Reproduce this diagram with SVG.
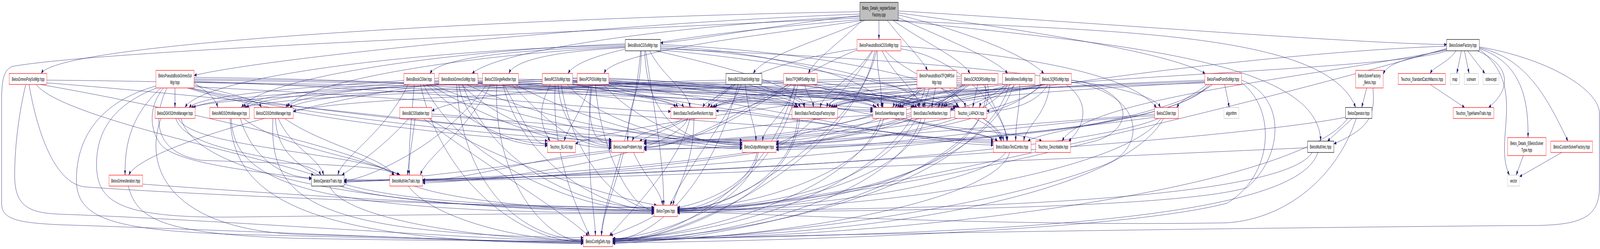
<svg xmlns="http://www.w3.org/2000/svg" width="7955" height="637" viewBox="0 0 7955 637" preserveAspectRatio="none">
<style>
:root{width:100vw;height:100vh}
.e path{fill:none;stroke:#191970;stroke-width:1;marker-end:url(#ah)}
.n rect{fill:#fff;stroke-width:1.2}
.r rect{stroke:#ff0000}
.k rect{stroke:#000}
.g rect{stroke:#bfbfbf}
.root rect{fill:#bfbfbf;stroke:#000}
text{font-family:"Liberation Sans",Arial,sans-serif;font-size:13px;fill:#000;text-anchor:middle}
</style>
<defs>
<marker id="ah" viewBox="0 0 12 9" refX="12" refY="4.5" markerWidth="12" markerHeight="9" markerUnits="userSpaceOnUse" orient="auto"><path d="M0,0L12,4.5L0,9z" fill="#191970"/></marker>
</defs>
<rect width="7955" height="637" fill="#fff"/>
<g id="edges" class="e">
<path d="M4275,30 C3000,40 300,100 205,188"/>
<path d="M4275,36 C3000,60 1300,150 965,193"/>
<path d="M4275,42 C3500,60 2500,120 2347,188"/>
<path d="M4280,50 C3600,80 2900,120 2824,188"/>
<path d="M4290,52 C3800,90 3050,130 3003,188"/>
<path d="M4275,40 C3900,60 3500,100 3284,110"/>
<path d="M4300,52 C4100,100 3800,140 3745,188"/>
<path d="M4285,52 C4200,100 4050,150 4019,188"/>
<path d="M4370,52 L4370,101"/>
<path d="M4411,52 C4500,110 4580,150 4612,180"/>
<path d="M4440,52 C4600,110 4780,150 4823,188"/>
<path d="M4466,45 C4700,100 4950,150 5010,188"/>
<path d="M4466,38 C4800,80 5100,140 5190,188"/>
<path d="M4466,33 C5000,70 5800,130 5992,188"/>
<path d="M4466,28 C5500,60 6700,110 7193,114"/>
<path d="M4440,52 C5500,80 6600,80 6740,275"/>
<path d="M4440,52 C5500,110 6560,150 6566,361"/>
<path d="M4275,46 C2500,90 500,130 60,170 C20,180 8,200 8,260 L8,520 C8,560 80,570 300,575 C1200,590 2500,620 2900,622"/>
<path d="M3109,118 C2700,125 2200,140 2137,188"/>
<path d="M3109,122 C2800,130 2560,150 2530,188"/>
<path d="M3109,115 C2000,130 1000,200 920,275"/>
<path d="M3109,112 C2200,130 1300,200 1200,275"/>
<path d="M3109,120 C2300,140 1500,210 1420,275"/>
<path d="M3284,125 C4500,150 5700,200 5770,275"/>
<path d="M3284,118 C3800,130 4380,200 4390,275"/>
<path d="M3188,130 C3188,250 3121,250 3121,361"/>
<path d="M3230,130 C3300,200 3420,230 3431,275"/>
<path d="M3284,122 C3900,140 4580,210 4600,275"/>
<path d="M3284,128 C4000,160 4950,250 4990,361"/>
<path d="M3260,130 C3600,170 3990,220 4000,275"/>
<path d="M3205,130 C3220,330 3450,370 3690,371"/>
<path d="M3284,114 C4000,130 4780,200 4800,275"/>
<path d="M3210,130 C3260,300 3300,420 3300,525"/>
<path d="M3185,130 C3150,350 3000,500 2990,603"/>
<path d="M4335,130 C4250,200 4100,230 4077,275"/>
<path d="M4361,130 C4361,200 4383,200 4383,275"/>
<path d="M4386,130 C4450,200 4560,230 4574,275"/>
<path d="M4402,130 C4500,190 4740,220 4760,275"/>
<path d="M4261,125 C3900,150 3560,220 3520,275"/>
<path d="M4261,128 C3900,200 3500,375 3202,376"/>
<path d="M4340,130 C4200,250 3900,375 3859,376"/>
<path d="M4479,125 C4800,150 5000,300 5010,361"/>
<path d="M4357,130 C4300,300 3700,540 3368,540"/>
<path d="M4350,130 C4250,400 3400,617 3046,617"/>
<path d="M4479,118 C5000,138 5600,180 5750,275"/>
<path d="M7239,130 C7200,160 7130,170 7110,188"/>
<path d="M7266,130 L7243,188"/>
<path d="M7281,130 L7304,188"/>
<path d="M7297,130 L7383,188"/>
<path d="M7346,130 C7520,170 7510,230 7401,275"/>
<path d="M7355,126 C7600,220 7420,360 7505,448"/>
<path d="M7355,124 C7560,160 7600,250 7597,352"/>
<path d="M7355,122 C7600,150 7700,260 7796,361"/>
<path d="M7355,120 C7700,150 7952,230 7952,290 L7952,480 C7952,560 7850,577 7600,577 C7300,577 3300,600 3046,619"/>
<path d="M7193,130 C6900,185 4700,200 4470,275"/>
<path d="M7193,126 C7000,150 6900,160 6877,190"/>
<path d="M7193,118 C6000,140 4000,300 3859,372"/>
<path d="M7193,124 C6000,300 4000,540 3368,538"/>
<path d="M7193,128 C6500,200 5400,250 5280,361"/>
<path d="M6795,225 L6770,275"/>
<path d="M6826,225 C6840,300 6800,330 6632,368"/>
<path d="M7110,216 L7282,275"/>
<path d="M7574,398 L7538,448"/>
<path d="M7765,390 L7555,452"/>
<path d="M6724,303 L6600,361"/>
<path d="M6690,300 C6000,370 3000,462 1711,462"/>
<path d="M6743,303 C6650,450 6400,560 6100,570 C5000,580 3700,545 3368,541"/>
<path d="M6700,303 C6500,450 5000,600 3046,615"/>
<path d="M6501,378 C5500,400 3000,462 2101,462"/>
<path d="M6523,390 C6400,500 5000,540 3368,537"/>
<path d="M6552,390 C6450,560 5000,600 3046,613"/>
<path d="M6089,216 L6112,275"/>
<path d="M6000,216 C5950,240 5880,250 5850,275"/>
<path d="M5990,205 C5200,220 4600,240 4480,275"/>
<path d="M5990,210 C5300,230 4720,250 4690,275"/>
<path d="M5990,212 C5000,230 3700,240 3540,275"/>
<path d="M5990,208 C5100,225 4200,240 4130,275"/>
<path d="M6030,216 C5800,300 5200,330 5110,361"/>
<path d="M6010,216 C5800,360 4000,380 3202,380"/>
<path d="M6020,216 C5800,340 4500,375 3859,378"/>
<path d="M6173,205 C6400,250 6380,400 6200,480 C5800,540 4000,540 3368,543"/>
<path d="M6173,212 C6350,280 6330,450 6100,520 C5500,600 3500,620 3046,621"/>
<path d="M5190,216 C5000,240 4500,250 4470,275"/>
<path d="M5200,216 C5000,240 4720,250 4700,275"/>
<path d="M5210,216 C5150,270 5000,284 4906,284"/>
<path d="M5220,216 C5200,300 5100,320 5090,361"/>
<path d="M5180,216 C4800,240 4200,250 4150,275"/>
<path d="M5300,216 C5420,260 5400,320 5313,361"/>
<path d="M5180,216 C5000,330 3600,370 3202,368"/>
<path d="M5175,216 C5000,320 4200,372 3859,370"/>
<path d="M5327,205 C5650,230 5640,330 5450,360 C5000,420 4000,530 3368,535"/>
<path d="M5327,210 C5700,240 5700,380 5500,420 C4800,560 3500,615 3046,620"/>
<path d="M5010,216 C4900,245 4500,250 4460,275"/>
<path d="M5030,216 C4900,245 4700,250 4680,275"/>
<path d="M5050,216 C5000,245 4880,250 4870,275"/>
<path d="M4990,214 C4500,230 3600,240 3555,275"/>
<path d="M4995,216 C4700,240 4200,250 4140,275"/>
<path d="M5070,216 C5070,290 5050,300 5050,361"/>
<path d="M5000,216 C4800,330 3700,365 3202,366"/>
<path d="M5010,216 C4900,330 4200,368 3859,368"/>
<path d="M5040,216 C4900,450 4000,536 3368,534"/>
<path d="M5020,216 C4850,500 3600,612 3046,612"/>
<path d="M4861,216 L4836,275"/>
<path d="M4800,216 C4700,245 4480,250 4450,275"/>
<path d="M4820,216 C4760,245 4680,250 4665,275"/>
<path d="M4781,210 C4300,225 3650,235 3545,275"/>
<path d="M4790,216 C4500,240 4150,250 4120,275"/>
<path d="M4890,216 C4960,290 5000,320 5005,361"/>
<path d="M4800,216 C4600,330 3700,363 3202,363"/>
<path d="M4810,216 C4600,330 4100,365 3859,365"/>
<path d="M4781,214 C4000,260 3000,330 2861,368"/>
<path d="M4781,205 C3500,230 1800,240 1458,285"/>
<path d="M4781,200 C3500,220 1500,230 1215,275"/>
<path d="M4781,195 C3500,215 1200,230 950,275"/>
<path d="M4900,216 C4950,450 4000,540 3368,545"/>
<path d="M4910,216 C4980,400 4000,600 3046,623"/>
<path d="M4790,216 C4500,400 2600,462 2101,464"/>
<path d="M4785,216 C4400,420 2300,462 1711,464"/>
<path d="M4651,225 L4632,275"/>
<path d="M4597,225 C4550,250 4450,255 4440,275"/>
<path d="M4559,209 C4100,220 3600,240 3530,275"/>
<path d="M4559,215 C4300,230 4120,250 4110,275"/>
<path d="M4720,225 C4850,300 4970,320 4980,361"/>
<path d="M4570,225 C4400,330 3700,362 3202,360"/>
<path d="M4580,225 C4450,320 4000,362 3859,362"/>
<path d="M4620,225 C4500,460 3900,532 3368,532"/>
<path d="M4600,225 C4450,500 3500,610 3046,610"/>
<path d="M4000,216 C4020,250 4040,255 4045,275"/>
<path d="M4040,216 C4200,250 4370,255 4390,275"/>
<path d="M4050,216 C4300,245 4580,255 4595,275"/>
<path d="M3935,216 C3800,270 3650,282 3560,284"/>
<path d="M4063,210 C4600,250 4950,300 4975,361"/>
<path d="M3920,216 C3700,300 3400,375 3202,378"/>
<path d="M3957,216 C3900,300 3800,320 3791,361"/>
<path d="M3966,216 C3900,400 3600,535 3368,536"/>
<path d="M3950,216 C3850,450 3400,614 3046,614"/>
<path d="M3609,205 C3000,210 2300,240 2147,284"/>
<path d="M3657,216 C3600,245 3510,255 3494,275"/>
<path d="M3686,216 C3600,320 3400,440 3332,525"/>
<path d="M3705,216 C3720,290 3755,320 3759,361"/>
<path d="M3721,216 C4200,300 4900,330 4960,361"/>
<path d="M3788,205 C4100,220 4350,250 4370,275"/>
<path d="M3788,210 C4200,230 4550,250 4570,275"/>
<path d="M3770,216 C3900,245 3990,255 4000,275"/>
<path d="M3640,216 C3500,300 3300,330 3179,361"/>
<path d="M3670,216 C3550,450 3300,600 3046,616"/>
<path d="M2931,216 C2900,280 2830,320 2804,361"/>
<path d="M2938,216 C2915,330 2960,368 3040,368"/>
<path d="M2870,205 C2000,220 1100,240 960,275"/>
<path d="M2870,210 C2200,225 1550,240 1440,275"/>
<path d="M2870,200 C2100,215 1300,240 1225,275"/>
<path d="M3027,205 C3600,230 4100,284 4340,285"/>
<path d="M3027,210 C3700,220 4500,245 4560,275"/>
<path d="M3010,216 C3200,250 3380,255 3400,275"/>
<path d="M3027,200 C3500,210 3950,240 3980,275"/>
<path d="M3027,214 C3800,270 4600,371 4939,371"/>
<path d="M3000,216 C3200,330 3500,370 3690,370"/>
<path d="M3027,212 C3800,225 4700,245 4770,275"/>
<path d="M2960,216 C2990,400 3150,539 3252,539"/>
<path d="M2945,216 C2900,400 2960,550 2960,603"/>
<path d="M2737,216 C2660,290 2700,330 2735,361"/>
<path d="M2775,216 C2790,320 2900,372 3040,372"/>
<path d="M2847,205 C3600,215 4600,240 4760,275"/>
<path d="M2847,210 C3500,220 4300,240 4350,275"/>
<path d="M2847,200 C3600,210 4480,240 4550,275"/>
<path d="M2847,214 C3100,240 3350,255 3370,275"/>
<path d="M2847,208 C3400,220 3950,245 3960,275"/>
<path d="M2847,216 C3600,280 4700,366 4939,366"/>
<path d="M2820,216 C3000,320 3400,366 3690,366"/>
<path d="M2790,216 C2850,420 3100,535 3252,535"/>
<path d="M2760,216 C2740,420 2900,560 2930,603"/>
<path d="M2504,216 C2600,300 2640,370 2722,370"/>
<path d="M2545,216 C2700,300 2850,376 3040,376"/>
<path d="M2560,216 C2900,310 3400,375 3690,376"/>
<path d="M2578,212 C3500,230 4600,250 4750,278"/>
<path d="M2440,216 C2300,350 2120,400 2090,448"/>
<path d="M2420,216 C2200,380 1800,462 1711,462"/>
<path d="M2500,216 C2600,420 3000,537 3252,537"/>
<path d="M2470,216 C2450,450 2700,617 2900,617"/>
<path d="M2121,216 C2300,300 2500,368 2722,367"/>
<path d="M2134,216 C2400,300 2800,378 3040,379"/>
<path d="M2150,216 C2500,300 3300,380 3690,380"/>
<path d="M2160,210 C3000,225 4500,250 4740,280"/>
<path d="M2060,216 C2040,330 2030,400 2035,448"/>
<path d="M2030,216 C1900,350 1700,400 1680,448"/>
<path d="M2105,216 C2300,420 2900,541 3252,541"/>
<path d="M2090,216 C2200,470 2600,619 2900,619"/>
<path d="M2182,214 C1500,260 700,380 640,448"/>
<path d="M2182,200 C1600,220 1000,240 940,275"/>
<path d="M2182,205 C1700,225 1250,240 1210,275"/>
<path d="M2182,208 C1800,230 1450,245 1430,275"/>
<path d="M2376,200 C3300,210 4200,240 4360,275"/>
<path d="M2376,205 C3400,215 4450,240 4545,275"/>
<path d="M2376,208 C2900,225 3330,250 3360,275"/>
<path d="M2376,212 C3200,225 3900,250 3970,275"/>
<path d="M2376,214 C3400,260 4600,362 4939,362"/>
<path d="M2293,216 C2500,320 2800,364 3040,364"/>
<path d="M2320,216 C2700,310 3300,364 3690,364"/>
<path d="M2281,216 C2310,320 2500,371 2722,373"/>
<path d="M2376,210 C3300,220 4500,240 4755,275"/>
<path d="M2300,216 C2450,430 2900,533 3252,533"/>
<path d="M2270,216 C2300,480 2600,613 2900,613"/>
<path d="M2064,303 L2025,448"/>
<path d="M2032,303 C1900,380 1750,430 1700,448"/>
<path d="M2105,303 C2400,420 2800,540 2925,603"/>
<path d="M2147,292 C2500,300 2900,350 3040,362"/>
<path d="M2147,297 C2700,310 3400,350 3690,369"/>
<path d="M2130,303 C2500,420 3000,500 3265,525"/>
<path d="M5740,292 C5000,320 3700,382 3202,383"/>
<path d="M5740,296 C5200,310 4300,383 3859,383"/>
<path d="M5740,300 C5000,350 3000,462 2101,460"/>
<path d="M5762,303 C5200,420 2500,462 1711,460"/>
<path d="M5772,303 C5600,430 4500,538 3368,538"/>
<path d="M5785,303 C5600,480 4500,610 3046,610"/>
<path d="M874,303 C930,400 1550,400 1596,448"/>
<path d="M887,303 C950,380 1800,390 1985,448"/>
<path d="M900,303 C1000,500 2500,540 3252,543"/>
<path d="M800,303 C700,450 900,590 1500,600 C2200,610 2700,621 2900,621"/>
<path d="M1195,303 C1250,400 1400,455 1549,455"/>
<path d="M1210,303 C1400,380 1800,400 1990,448"/>
<path d="M1150,303 C1160,480 1600,545 3252,545"/>
<path d="M1144,303 C1160,500 1500,620 2900,623"/>
<path d="M1383,303 C1450,380 1580,400 1610,448"/>
<path d="M1415,303 C1600,370 1900,400 1960,448"/>
<path d="M1370,303 C1380,470 1800,530 3252,530"/>
<path d="M1357,303 C1340,500 1500,600 2900,608"/>
<path d="M709,471 C1200,490 2500,535 3252,537"/>
<path d="M638,476 C680,560 800,600 1500,610 C2300,617 2700,617 2900,617"/>
<path d="M3390,303 C3350,330 3160,335 3143,361"/>
<path d="M3420,303 C3350,400 2500,462 2101,468"/>
<path d="M3450,303 C3450,420 3370,470 3345,525"/>
<path d="M3430,303 C3380,420 3100,560 3030,603"/>
<path d="M3965,303 C3950,450 3600,536 3368,536"/>
<path d="M3975,303 C3950,500 3300,618 3046,618"/>
<path d="M4340,295 C4000,300 3400,350 3202,366"/>
<path d="M4395,303 C4300,450 3700,534 3368,534"/>
<path d="M4380,303 C4250,500 3400,612 3046,611"/>
<path d="M4480,303 C4700,330 5100,340 5180,361"/>
<path d="M4504,303 C4650,330 4900,340 4960,361"/>
<path d="M4600,303 C4500,470 3800,540 3368,540"/>
<path d="M4580,303 C4450,520 3500,616 3046,616"/>
<path d="M5000,390 C4900,470 4000,538 3368,539"/>
<path d="M5020,390 C4950,520 3800,616 3046,617"/>
<path d="M3040,385 C2700,400 2300,462 2101,462"/>
<path d="M3045,388 C2600,420 2000,462 1711,466"/>
<path d="M3150,390 C3200,450 3280,480 3295,525"/>
<path d="M3100,390 C3060,480 3000,540 2990,603"/>
<path d="M3763,390 C3740,470 3500,520 3368,531"/>
<path d="M3770,390 C3730,520 3300,600 3046,612"/>
<path d="M2060,476 C2300,520 2900,541 3252,540"/>
<path d="M2030,476 C2150,560 2600,616 2900,616"/>
<path d="M1690,476 C2000,530 2900,538 3252,538"/>
<path d="M1640,476 C1700,560 2400,614 2900,614"/>
<path d="M3252,552 C3200,570 3100,590 3035,603"/>
<path d="M870,225 L870,275"/>
<path d="M965,212 C1030,235 1070,250 1083,275"/>
<path d="M965,218 C1150,240 1280,255 1300,275"/>
<path d="M800,225 C640,300 620,380 622,448"/>
<path d="M965,198 C2500,205 4000,280 4340,281"/>
<path d="M965,205 C2500,215 4300,240 4540,275"/>
<path d="M965,208 C2200,230 3000,285 3335,285"/>
<path d="M965,202 C2400,208 3800,245 3960,275"/>
<path d="M940,225 C1500,300 2700,360 3040,359"/>
<path d="M950,225 C1600,300 3000,358 3690,358"/>
<path d="M965,222 C2500,260 4500,358 4939,358"/>
<path d="M930,225 C1400,300 2400,355 2722,360"/>
<path d="M965,210 C2500,222 4500,245 4750,275"/>
<path d="M813,225 C740,270 740,330 800,370 C880,420 1300,440 1549,458"/>
<path d="M830,225 C760,300 760,390 1000,410 C1500,420 1900,420 1985,448"/>
<path d="M780,225 C600,260 480,320 480,420 C480,520 600,560 1200,555 C2000,550 2900,545 3252,546"/>
<path d="M775,220 C500,260 380,350 380,460 C380,560 560,590 1200,600 C2000,610 2700,619 2900,619"/>
<path d="M233,205 C1500,210 4000,260 4340,277"/>
<path d="M198,216 C700,260 1800,380 1960,448"/>
<path d="M144,216 C200,380 300,470 420,478 C1000,500 2500,530 3252,532"/>
<path d="M180,216 C300,300 1300,400 1560,448"/>
<path d="M233,212 C1200,250 2600,340 3040,357"/>
<path d="M128,216 C90,300 73,380 73,450 C73,530 150,545 300,548 C1000,560 2500,617 2900,617"/>
</g>
<g id="n_root" class="n root"><rect x="4275" y="6" width="191" height="46"/><text x="4370" y="25">Belos_Details_registerSolver</text><text x="4370" y="42">Factory.cpp</text></g>
<g id="n_bcgs" class="n k"><rect x="3109" y="101" width="175" height="29"/><text x="3196" y="120">BelosBlockCGSolMgr.hpp</text></g>
<g id="n_pbcg" class="n r"><rect x="4261" y="101" width="218" height="29"/><text x="4370" y="120">BelosPseudoBlockCGSolMgr.hpp</text></g>
<g id="n_sf" class="n k"><rect x="7193" y="101" width="162" height="29"/><text x="7274" y="120">BelosSolverFactory.hpp</text></g>
<g id="n_gp" class="n r"><rect x="46" y="188" width="187" height="28"/><text x="140" y="207">BelosGmresPolySolMgr.hpp</text></g>
<g id="n_pbg" class="n r"><rect x="775" y="180" width="190" height="45"/><text x="870" y="198">BelosPseudoBlockGmresSol</text><text x="870" y="215">Mgr.hpp</text></g>
<g id="n_bcgi" class="n r"><rect x="2008" y="188" width="152" height="28"/><text x="2084" y="207">BelosBlockCGIter.hpp</text></g>
<g id="n_bgs" class="n r"><rect x="2182" y="188" width="194" height="28"/><text x="2279" y="207">BelosBlockGmresSolMgr.hpp</text></g>
<g id="n_cgsr" class="n r"><rect x="2399" y="188" width="179" height="28"/><text x="2488" y="207">BelosCGSingleRedIter.hpp</text></g>
<g id="n_rcg" class="n r"><rect x="2696" y="188" width="151" height="28"/><text x="2771" y="207">BelosRCGSolMgr.hpp</text></g>
<g id="n_pcpg" class="n r"><rect x="2870" y="188" width="157" height="28"/><text x="2948" y="207">BelosPCPGSolMgr.hpp</text></g>
<g id="n_bis" class="n k"><rect x="3609" y="188" width="179" height="28"/><text x="3698" y="207">BelosBiCGStabSolMgr.hpp</text></g>
<g id="n_tfs" class="n r"><rect x="3896" y="188" width="167" height="28"/><text x="3980" y="207">BelosTFQMRSolMgr.hpp</text></g>
<g id="n_pbt" class="n r"><rect x="4559" y="180" width="198" height="45"/><text x="4658" y="198">BelosPseudoBlockTFQMRSol</text><text x="4658" y="215">Mgr.hpp</text></g>
<g id="n_gcr" class="n r"><rect x="4781" y="188" width="181" height="28"/><text x="4871" y="207">BelosGCRODRSolMgr.hpp</text></g>
<g id="n_min" class="n r"><rect x="4985" y="188" width="161" height="28"/><text x="5065" y="207">BelosMinresSolMgr.hpp</text></g>
<g id="n_lsqr" class="n r"><rect x="5170" y="188" width="157" height="28"/><text x="5248" y="207">BelosLSQRSolMgr.hpp</text></g>
<g id="n_fp" class="n r"><rect x="5990" y="188" width="183" height="28"/><text x="6081" y="207">BelosFixedPointSolMgr.hpp</text></g>
<g id="n_sfb" class="n r"><rect x="6740" y="180" width="137" height="45"/><text x="6808" y="198">BelosSolverFactory</text><text x="6808" y="215">_Belos.hpp</text></g>
<g id="n_tsc" class="n r"><rect x="6952" y="188" width="235" height="28"/><text x="7070" y="207">Teuchos_StandardCatchMacros.hpp</text></g>
<g id="n_map" class="n g"><rect x="7210" y="188" width="47" height="28"/><text x="7233" y="207">map</text></g>
<g id="n_sst" class="n g"><rect x="7280" y="188" width="70" height="28"/><text x="7315" y="207">sstream</text></g>
<g id="n_sex" class="n g"><rect x="7373" y="188" width="80" height="28"/><text x="7413" y="207">stdexcept</text></g>
<g id="n_dgks" class="n r"><rect x="771" y="275" width="199" height="28"/><text x="870" y="294">BelosDGKSOrthoManager.hpp</text></g>
<g id="n_imgs" class="n r"><rect x="1043" y="275" width="197" height="28"/><text x="1141" y="294">BelosIMGSOrthoManager.hpp</text></g>
<g id="n_icgs" class="n r"><rect x="1263" y="275" width="195" height="28"/><text x="1360" y="294">BelosICGSOrthoManager.hpp</text></g>
<g id="n_bii" class="n r"><rect x="1988" y="275" width="159" height="28"/><text x="2067" y="294">BelosBiCGStabIter.hpp</text></g>
<g id="n_grn" class="n r"><rect x="3335" y="275" width="225" height="28"/><text x="3447" y="294">BelosStatusTestGenResNorm.hpp</text></g>
<g id="n_sof" class="n r"><rect x="3938" y="275" width="227" height="28"/><text x="4051" y="294">BelosStatusTestOutputFactory.hpp</text></g>
<g id="n_sm" class="n r"><rect x="4340" y="275" width="167" height="28"/><text x="4423" y="294">BelosSolverManager.hpp</text></g>
<g id="n_smi" class="n r"><rect x="4530" y="275" width="195" height="28"/><text x="4627" y="294">BelosStatusTestMaxIters.hpp</text></g>
<g id="n_lap" class="n r"><rect x="4748" y="275" width="158" height="28"/><text x="4827" y="294">Teuchos_LAPACK.hpp</text></g>
<g id="n_cgi" class="n r"><rect x="5740" y="275" width="119" height="28"/><text x="5799" y="294">BelosCGIter.hpp</text></g>
<g id="n_alg" class="n g"><rect x="6085" y="275" width="75" height="28"/><text x="6122" y="294">algorithm</text></g>
<g id="n_op" class="n k"><rect x="6690" y="275" width="131" height="28"/><text x="6755" y="294">BelosOperator.hpp</text></g>
<g id="n_tnt" class="n r"><rect x="7225" y="275" width="202" height="28"/><text x="7326" y="294">Teuchos_TypeNameTraits.hpp</text></g>
<g id="n_blas" class="n r"><rect x="2722" y="361" width="139" height="29"/><text x="2791" y="380">Teuchos_BLAS.hpp</text></g>
<g id="n_lp" class="n r"><rect x="3040" y="361" width="162" height="29"/><text x="3121" y="380">BelosLinearProblem.hpp</text></g>
<g id="n_om" class="n r"><rect x="3690" y="361" width="169" height="29"/><text x="3774" y="380">BelosOutputManager.hpp</text></g>
<g id="n_stc" class="n r"><rect x="4939" y="361" width="187" height="29"/><text x="5032" y="380">BelosStatusTestCombo.hpp</text></g>
<g id="n_desc" class="n r"><rect x="5150" y="361" width="173" height="29"/><text x="5236" y="380">Teuchos_Describable.hpp</text></g>
<g id="n_mv" class="n k"><rect x="6501" y="361" width="131" height="29"/><text x="6566" y="380">BelosMultiVec.hpp</text></g>
<g id="n_est" class="n r"><rect x="7496" y="352" width="191" height="46"/><text x="7591" y="371">Belos_Details_EBelosSolver</text><text x="7591" y="388">Type.hpp</text></g>
<g id="n_csf" class="n r"><rect x="7710" y="361" width="208" height="29"/><text x="7814" y="380">BelosCustomSolverFactory.hpp</text></g>
<g id="n_gi" class="n r"><rect x="542" y="448" width="167" height="28"/><text x="625" y="467">BelosGmresIteration.hpp</text></g>
<g id="n_ot" class="n k"><rect x="1549" y="448" width="162" height="28"/><text x="1630" y="467">BelosOperatorTraits.hpp</text></g>
<g id="n_mvt" class="n r"><rect x="1938" y="448" width="163" height="28"/><text x="2019" y="467">BelosMultiVecTraits.hpp</text></g>
<g id="n_vec" class="n g"><rect x="7496" y="448" width="59" height="28"/><text x="7525" y="467">vector</text></g>
<g id="n_ty" class="n r"><rect x="3252" y="525" width="116" height="29"/><text x="3310" y="544">BelosTypes.hpp</text></g>
<g id="n_cd" class="n r"><rect x="2900" y="603" width="146" height="28"/><text x="2973" y="622">BelosConfigDefs.hpp</text></g>
</svg>
